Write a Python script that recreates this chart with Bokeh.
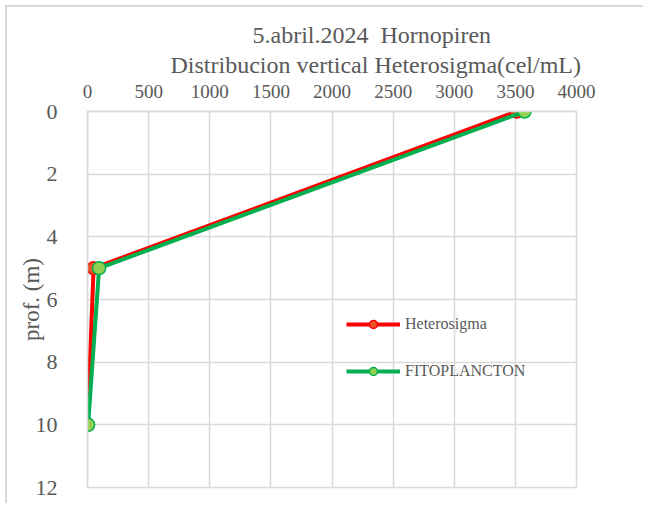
from bokeh.plotting import figure
from bokeh.models import Range1d, Title, Legend, LegendItem, FixedTicker
from bokeh.embed import file_html
from bokeh.resources import INLINE

depth = [0, 5, 10]
heterosigma = [3510, 50, 0]
fitoplancton = [3575, 95, 5]
x_ticks = [0, 500, 1000, 1500, 2000, 2500, 3000, 3500, 4000]
y_ticks = [0, 2, 4, 6, 8, 10, 12]
title1 = "5.abril.2024\u00a0\u00a0Hornopiren"
title2 = "Distribucion vertical Heterosigma(cel/mL)"

FONT = "Liberation Serif"
TXT = "#595959"
GRID = "#d9d9d9"

p = figure(width=638, height=498, output_backend="svg", toolbar_location=None,
           x_range=Range1d(0, 4000), y_range=Range1d(12, 0),
           x_axis_location="above", title=None,
           min_border_left=80, min_border_right=69, min_border_top=104, min_border_bottom=18)
p.styles = {"margin-left": "5px", "margin-top": "5px",
            "border-left": "2px solid #d9d9d9", "border-top": "2px solid #d9d9d9"}

p.add_layout(Title(text=title2, align="left", offset=83, text_font=FONT, text_font_size="24px",
                   text_color=TXT, text_font_style="normal", standoff=8), "above")
p.add_layout(Title(text=title1, align="left", offset=165, text_font=FONT, text_font_size="24px",
                   text_color=TXT, text_font_style="normal", standoff=-4), "above")

p.xaxis.ticker = FixedTicker(ticks=x_ticks)
p.yaxis.ticker = FixedTicker(ticks=y_ticks)
for ax in (p.xaxis, p.yaxis):
    ax.major_tick_line_color = None
    ax.minor_tick_line_color = None
    ax.major_label_text_font = FONT
    ax.major_label_text_color = TXT
    ax.axis_line_color = GRID
    ax.axis_line_width = 1.5
p.xaxis.major_label_text_font_size = "19px"
p.yaxis.major_label_text_font_size = "22px"
p.xaxis.major_label_standoff = 8
p.yaxis.major_label_standoff = 24
p.yaxis.axis_label = "prof. (m)"
p.yaxis.axis_label_text_font = FONT
p.yaxis.axis_label_text_font_size = "23px"
p.yaxis.axis_label_text_font_style = "normal"
p.yaxis.axis_label_text_color = TXT
p.yaxis.axis_label_standoff = -11

p.xgrid.ticker = FixedTicker(ticks=x_ticks)
p.ygrid.ticker = FixedTicker(ticks=y_ticks)
p.grid.grid_line_color = GRID
p.grid.grid_line_width = 1.5
p.outline_line_color = GRID
p.outline_line_width = 1.5

r1l = p.line(heterosigma, depth, line_color="#ff0000", line_width=4)
r1m = p.scatter(heterosigma, depth, size=13, fill_color="#e8562a", line_color="#ff0000", line_width=1.5)
r2l = p.line(fitoplancton, depth, line_color="#00b050", line_width=4)
r2m = p.scatter(fitoplancton, depth, size=13, fill_color="#92d050", line_color="#00b050", line_width=1.5)

legend = Legend(items=[LegendItem(label="Heterosigma", renderers=[r1l, r1m]),
                       LegendItem(label="FITOPLANCTON", renderers=[r2l, r2m])],
                location=(259, 106), padding=0, margin=0, spacing=27,
                glyph_width=54, glyph_height=20, label_standoff=5,
                label_text_font=FONT, label_text_font_size="16px", label_text_color=TXT,
                border_line_color=None, background_fill_alpha=0)
p.add_layout(legend, "center")

open("out.html", "w").write(file_html(p, INLINE))
